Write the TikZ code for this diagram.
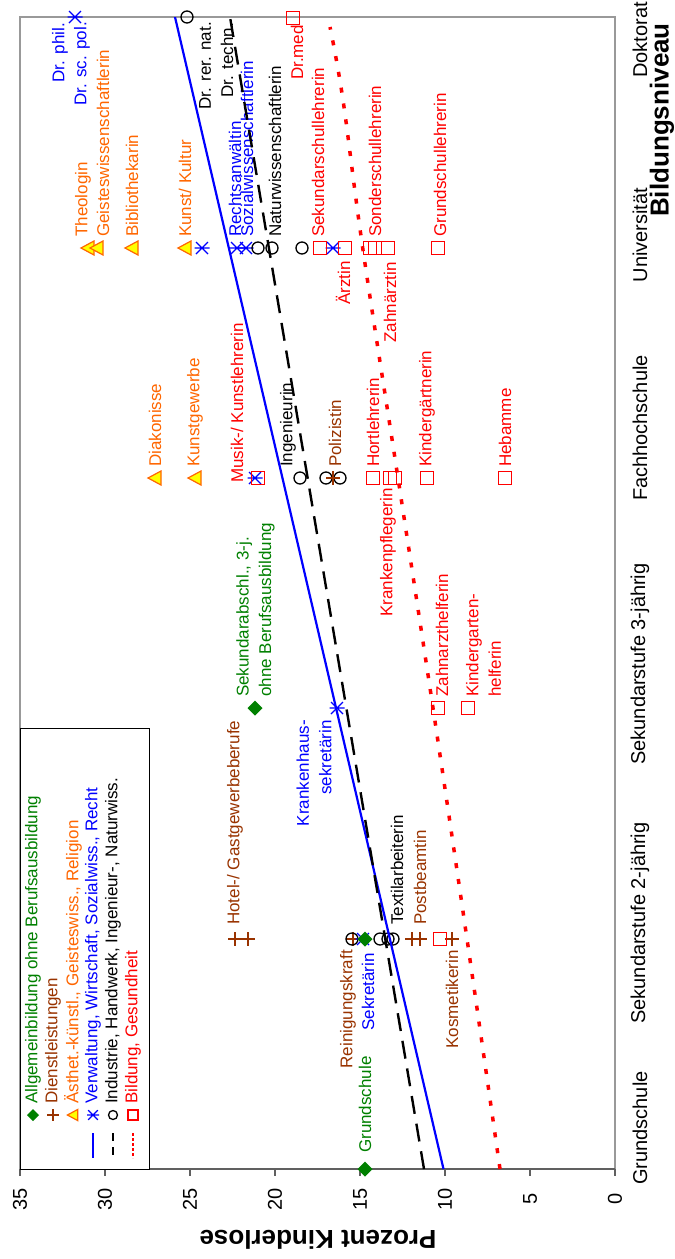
\documentclass[tikz,border=0pt]{standalone}
\usepackage{fontspec}
\setmainfont{Liberation Sans}
\definecolor{cgreen}{HTML}{008000}
\definecolor{cbrown}{HTML}{993300}
\definecolor{corange}{HTML}{FF6600}
\definecolor{cblue}{HTML}{0000FF}
\definecolor{cred}{HTML}{FF0000}
\definecolor{cyellow}{HTML}{FFFF00}
\definecolor{cframe}{HTML}{999999}
\definecolor{caxis}{HTML}{606060}
\tikzset{
  lab/.style={rotate=90, inner sep=0pt, font=\fontsize{17}{22.5}\selectfont},
  up/.style={lab, anchor=west},
  down/.style={lab, anchor=east},
  ticklab/.style={rotate=90, inner sep=0pt, font=\fontsize{20}{22}\selectfont},
  axtitle/.style={inner sep=0pt, font=\fontsize{26}{28}\selectfont\bfseries},
  legtext/.style={rotate=90, inner sep=0pt, anchor=west, font=\fontsize{17}{19}\selectfont},
  mdia/.pic={\fill[cgreen] (0,-7.5) -- (7.5,0) -- (0,7.5) -- (-7.5,0) -- cycle;},
  mplus/.pic={\draw[cbrown, line width=1.4pt] (-7,0) -- (7,0) (0,-7) -- (0,7);},
  mtri/.pic={\draw[corange, fill=cyellow, line width=1.2pt, line join=miter] (-7,0) -- (6,-7) -- (6,7) -- cycle;},
  mstar/.pic={\draw[cblue, line width=1.3pt] (-6,-6) -- (6,6) (-6,6) -- (6,-6) (-7.5,0) -- (7.5,0);},
  mcirc/.pic={\draw[black, line width=1.3pt] (0,0) circle (6);},
  msq/.pic={\draw[cred, line width=1.3pt] (-6.5,-6.5) rectangle (6.5,6.5);},
}
\begin{document}
\begin{tikzpicture}[x=1pt, y=-1pt]
\useasboundingbox (0,0) rectangle (675,1259);
% frame
\draw[cframe, line width=1.2pt] (20,1169) -- (20,17) -- (615,17) -- (615,1169);
\draw[caxis, line width=1.2pt] (20,1169) -- (615,1169);
\foreach \v in {0,5,...,35} {
  \draw[caxis, line width=1.2pt] ({615-17*\v},1169) -- ({615-17*\v},1176);
  \node[ticklab] (t\v) at ({615-17*\v},1199) {\v};
}
% category labels
\node[ticklab] (cg) at (640,1128) {Grundschule};
\node[ticklab] (cs2) at (640,923) {Sekundarstufe 2-jährig};
\node[ticklab] (cs3) at (640,664) {Sekundarstufe 3-jährig};
\node[ticklab] (cfh) at (640,428) {Fachhochschule};
\node[ticklab] (cuni) at (640,235) {Universität};
\node[ticklab] (cdr) at (640,40) {Doktorat};
\node[axtitle, rotate=90] (xt) at (662,120) {Bildungsniveau};
\node[axtitle, rotate=180] (yt) at (318,1240) {Prozent Kinderlose};

% ---------- data labels ----------
% Doktorat
\node[down, cblue] (lphil) at (60,23) {Dr. phil.};
\node[down, cblue] (lscpol) at (82,22) {Dr. sc. pol.};
\node[down] (lrer) at (205,22) {Dr. rer. nat.};
\node[down] (ltechn) at (227,23) {Dr. techn.};
\node[down, cred] (lmed) at (297,25) {Dr.med};
% Universitaet
\node[up, corange] (ltheo) at (83,237) {Theologin};
\node[up, corange] (lgeist) at (103,237) {Geisteswissenschaftlerin};
\node[up, corange] (lbib) at (132,237) {Bibliothekarin};
\node[up, corange] (lkunst) at (185,237) {Kunst/ Kultur};
\node[up, cblue] (lrecht) at (235,237) {Rechtsanwältin};
\node[up, cblue] (lsozial) at (247,237) {Sozialwissenschaftlerin};
\node[up] (lnatur) at (275,237) {Naturwissenschaftlerin};
\node[up, cred] (lsek) at (318,237) {Sekundarschullehrerin};
\node[up, cred] (lsonder) at (375,237) {Sonderschullehrerin};
\node[up, cred] (lgrundl) at (440,237) {Grundschullehrerin};
\node[down, cred] (larzt) at (343,261) {Ärztin};
\node[down, cred] (lzahn) at (390,262) {Zahnärztin};
% Fachhochschule
\node[up, corange] (ldiak) at (155,467) {Diakonisse};
\node[up, corange] (lkgew) at (195,467) {Kunstgewerbe};
\node[up, cred] (lmusik) at (237,483) {Musik-/ Kunstlehrerin};
\node[up] (ling) at (288,467) {Ingenieurin};
\node[up, cbrown] (lpol) at (335,467) {Polizistin};
\node[up, cred] (lhort) at (373,467) {Hortlehrerin};
\node[down, cred] (lkrank) at (388,488) {Krankenpflegerin};
\node[up, cred] (lkiga) at (427,467) {Kindergärtnerin};
\node[up, cred] (lheb) at (505,467) {Hebamme};
% Sekundarstufe 3
\node[up, cgreen, align=left] (lsek3) at (255.5,697) {Sekundarabschl., 3-j.\\ohne Berufsausbildung};
\node[down, cblue, align=right] (lkhs) at (314,720) {Krankenhaus-\\sekretärin};
\node[up, cred] (lzah) at (442,697) {Zahnarzthelferin};
\node[up, cred, align=left] (lkgh) at (483.5,697) {Kindergarten-\\helferin};
% Sekundarstufe 2
\node[up, cbrown] (lhotel) at (235,925) {Hotel-/ Gastgewerbeberufe};
\node[down, cbrown] (lrein) at (348,950) {Reinigungskraft};
\node[down, cblue] (lsekr) at (368,953) {Sekretärin};
\node[up] (ltex) at (397,925) {Textilarbeiterin};
\node[up, cbrown] (lpost) at (420,925) {Postbeamtin};
\node[down, cbrown] (lkos) at (452,950) {Kosmetikerin};
% Grundschule
\node[up, cgreen] (lgs) at (365,1153) {Grundschule};

% ---------- markers ----------
% Doktorat
\pic at (75,17) {mstar};
\pic at (187,17) {mcirc};
\pic at (293,18) {msq};
% Universitaet
\foreach \x in {88,97,132,185} {\pic at (\x,248) {mtri};}
\foreach \x in {202,237,246,333} {\pic at (\x,248) {mstar};}
\foreach \x in {258,272,302} {\pic at (\x,248) {mcirc};}
\foreach \x in {320,345,370,375,388,438} {\pic at (\x,248) {msq};}
% Fachhochschule
\foreach \x in {155,195} {\pic at (\x,478) {mtri};}
\pic at (255,478) {mstar};
\foreach \x in {258,373,390,395,427,505} {\pic at (\x,478) {msq};}
\foreach \x in {300,326,340} {\pic at (\x,478) {mcirc};}
\pic at (333,478) {mplus};
% Sekundarstufe 3
\pic at (255,708) {mdia};
\pic at (337,708) {mstar};
\foreach \x in {438,468} {\pic at (\x,708) {msq};}
% Sekundarstufe 2
\foreach \x in {235,248,353,412,420,452} {\pic at (\x,939) {mplus};}
\foreach \x in {352,380,388,393} {\pic at (\x,939) {mcirc};}
\pic at (363,939) {mstar};
\pic at (365,939) {mdia};
\pic at (440,939) {msq};
% Grundschule
\pic at (365,1169) {mdia};

% ---------- trend lines ----------
\begin{scope}
\clip (20,17) rectangle (615,1169);
\coordinate (b0) at (443.5,1169); \coordinate (b1) at (175,17);
\coordinate (k0) at (424,1169); \coordinate (k1) at (230,17);
\draw[cblue, line width=2.2pt] (b0) -- (b1);
\draw[black, line width=2.4pt, dash pattern=on 18pt off 10pt] (k0) -- (k1);
\draw[cred, line width=3.5pt, dash pattern=on 5pt off 11pt] plot[smooth, tension=0.6] coordinates {(500,1169) (467,939) (433,708) (398,478) (363,250) (343,100) (330,27)};
\end{scope}

% ---------- legend ----------
\draw[black, line width=0.9pt, fill=white] (20,728) rectangle (149,1169);
\pic[scale=0.8] at (33,1115) {mdia};
\node[legtext, cgreen] (g1) at (33,1104) {Allgemeinbildung ohne Berufsausbildung};
\pic[scale=0.8] at (53,1115) {mplus};
\node[legtext, cbrown] (g2) at (53,1104) {Dienstleistungen};
\pic[scale=0.8] at (73,1115) {mtri};
\node[legtext, corange] (g3) at (73,1104) {Ästhet.-künstl., Geisteswiss., Religion};
\coordinate (s4a) at (93,1133); \coordinate (s4b) at (93,1158);
\draw[cblue, line width=2.2pt] (s4a) -- (s4b);
\pic[scale=0.8] at (93,1115) {mstar};
\node[legtext, cblue] (g4) at (93,1104) {Verwaltung, Wirtschaft, Sozialwiss., Recht};
\coordinate (s5a) at (113,1133); \coordinate (s5b) at (113,1158);
\draw[black, line width=2.2pt, dash pattern=on 8pt off 6pt] (s5a) -- (s5b);
\pic[scale=0.75] at (113,1115) {mcirc};
\node[legtext] (g5) at (113,1104) {Industrie, Handwerk, Ingenieur-, Naturwiss.};
\coordinate (s6a) at (133,1133); \coordinate (s6b) at (133,1158);
\draw[cred, line width=2.4pt, dash pattern=on 2.5pt off 2.5pt] (s6a) -- (s6b);
\pic[scale=0.75] at (133,1115) {msq};
\node[legtext, cred] (g6) at (133,1104) {Bildung, Gesundheit};
\end{tikzpicture}
\end{document}
